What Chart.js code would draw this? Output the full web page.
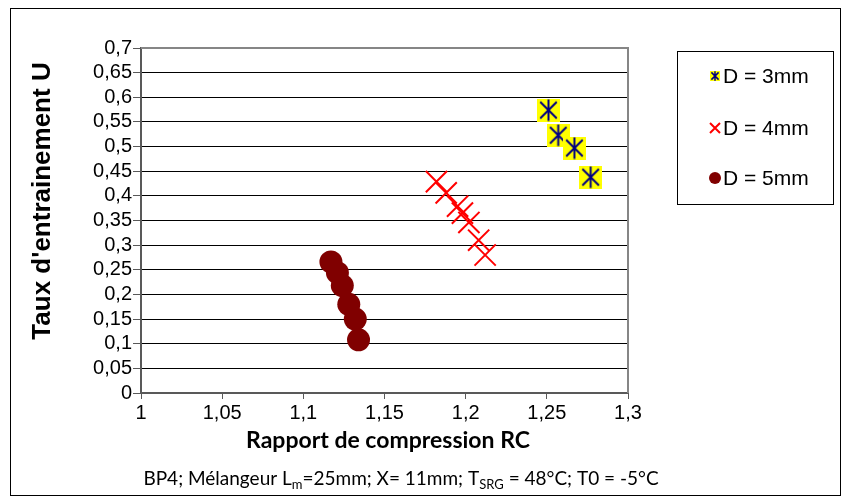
<!DOCTYPE html>
<html>
<head>
<meta charset="utf-8">
<script src="https://cdn.jsdelivr.net/npm/chart.js@4/dist/chart.umd.min.js"></script>
<style>
  html, body { margin: 0; padding: 0; background: #fff; }
  canvas { display: block; }
</style>
</head>
<body>
<canvas id="c" width="846" height="501"></canvas>
<script>
// ---- data ----
const seriesLabels = ['D = 3mm', 'D = 4mm', 'D = 5mm'];
const x3 = [1.251, 1.257, 1.267, 1.277];
const y3 = [0.574, 0.523, 0.497, 0.438];
const x4 = [1.182, 1.188, 1.195, 1.198, 1.202, 1.208, 1.212];
const y4 = [0.429, 0.406, 0.379, 0.365, 0.346, 0.310, 0.280];
const x5 = [1.117, 1.121, 1.124, 1.128, 1.132, 1.134];
const y5 = [0.266, 0.244, 0.218, 0.180, 0.150, 0.108];
const xTickValues = [1, 1.05, 1.1, 1.15, 1.2, 1.25, 1.3];
const xTickLabels = ['1', '1,05', '1,1', '1,15', '1,2', '1,25', '1,3'];
const yTickValues = [0, 0.05, 0.1, 0.15, 0.2, 0.25, 0.3, 0.35, 0.4, 0.45, 0.5, 0.55, 0.6, 0.65, 0.7];
const yTickLabels = ['0', '0,05', '0,1', '0,15', '0,2', '0,25', '0,3', '0,35', '0,4', '0,45', '0,5', '0,55', '0,6', '0,65', '0,7'];
const yTitle = "Taux d'entrainement U";
const xTitle = 'Rapport de compression RC';
const captionParts = [['BP4; Mélangeur L', false], ['m', true], ['=25mm; X= 11mm; T', false], ['SRG', true], [' = 48°C; T0 = -5°C', false]];

const pts = (xs, ys) => xs.map((x, i) => ({ x: x, y: ys[i] }));

// star-in-yellow-square marker
function makeStarSquare(size, lw) {
  const cv = document.createElement('canvas');
  cv.width = size; cv.height = size;
  const g = cv.getContext('2d');
  g.fillStyle = '#FFFF00';
  g.fillRect(0, 0, size, size);
  g.strokeStyle = '#000080';
  g.lineWidth = lw;
  const c = size / 2, h = size * 0.36, v = size * 0.47;
  g.beginPath();
  g.moveTo(c - h, c - h); g.lineTo(c + h, c + h);
  g.moveTo(c + h, c - h); g.lineTo(c - h, c + h);
  g.moveTo(c, c - v); g.lineTo(c, c + v);
  g.stroke();
  return cv;
}
const starBig = makeStarSquare(23, 2);
const starSmall = makeStarSquare(10, 1.5);

const FONT = '"Liberation Sans", Arial, sans-serif';
const CAL = 'Lato, "Open Sans", sans-serif';

const decor = {
  id: 'decor',
  beforeDraw(chart) {
    const ctx = chart.ctx;
    ctx.save();
    ctx.fillStyle = '#fff';
    ctx.fillRect(0, 0, chart.width, chart.height);
    ctx.restore();
  },
  afterDraw(chart) {
    const ctx = chart.ctx;
    const a = chart.chartArea;
    ctx.save();
    // plot area frame top/right
    ctx.strokeStyle = '#868686';
    ctx.lineWidth = 2;
    ctx.beginPath();
    ctx.moveTo(a.left, a.top); ctx.lineTo(a.right, a.top); ctx.lineTo(a.right, a.bottom);
    ctx.stroke();
    // outer frame
    ctx.strokeStyle = '#000';
    ctx.lineWidth = 1;
    ctx.strokeRect(10.5, 8.5, 830, 487);
    // legend box
    ctx.strokeRect(677.5, 51.5, 156, 153);
    // legend items
    const ly = [76, 128, 178];
    ctx.font = '21px ' + FONT;
    ctx.fillStyle = '#000';
    ctx.textAlign = 'left';
    ctx.textBaseline = 'middle';
    ctx.drawImage(starSmall, 715 - 5, ly[0] - 5);
    ctx.strokeStyle = '#FF0000';
    ctx.lineWidth = 2;
    ctx.beginPath();
    ctx.moveTo(710, ly[1] - 5); ctx.lineTo(720, ly[1] + 5);
    ctx.moveTo(720, ly[1] - 5); ctx.lineTo(710, ly[1] + 5);
    ctx.stroke();
    ctx.fillStyle = '#800000';
    ctx.beginPath();
    ctx.arc(715, ly[2], 6, 0, Math.PI * 2);
    ctx.fill();
    ctx.fillStyle = '#000';
    seriesLabels.forEach((t, i) => ctx.fillText(t, 723, ly[i] + 1));
    // y title
    ctx.save();
    ctx.translate(43, 201);
    ctx.rotate(-Math.PI / 2);
    ctx.font = 'bold 26px ' + FONT;
    ctx.textAlign = 'center';
    ctx.textBaseline = 'middle';
    ctx.fillText(yTitle, 0, 0);
    ctx.restore();
    // x title
    ctx.font = 'bold 23px ' + CAL;
    ctx.textAlign = 'center';
    ctx.textBaseline = 'middle';
    ctx.fillText(xTitle, 388, 441);
    // caption
    const nf = '19px ' + CAL;
    const sf = '13px ' + CAL;
    let total = 0;
    captionParts.forEach(p => { ctx.font = p[1] ? sf : nf; total += ctx.measureText(p[0]).width; });
    let cx = 401 - total / 2;
    ctx.textAlign = 'left';
    ctx.textBaseline = 'alphabetic';
    captionParts.forEach(p => {
      ctx.font = p[1] ? sf : nf;
      ctx.fillText(p[0], cx, p[1] ? 489 : 485);
      cx += ctx.measureText(p[0]).width;
    });
    ctx.restore();
  }
};

new Chart(document.getElementById('c'), {
  type: 'scatter',
  data: {
    datasets: [
      { label: seriesLabels[0], data: pts(x3, y3), pointStyle: starBig, pointRadius: 11, borderWidth: 0 },
      { label: seriesLabels[1], data: pts(x4, y4), pointStyle: 'crossRot', pointRadius: 15, borderColor: '#FF0000', backgroundColor: '#FF0000', pointBorderWidth: 2 },
      { label: seriesLabels[2], data: pts(x5, y5), pointStyle: 'circle', pointRadius: 11.5, borderColor: '#800000', backgroundColor: '#800000', pointBorderWidth: 0 }
    ]
  },
  options: {
    responsive: false,
    animation: false,
    devicePixelRatio: 1,
    events: [],
    layout: { padding: { left: 0, right: 218, top: 48, bottom: 0 } },
    plugins: { legend: { display: false }, tooltip: { enabled: false }, title: { display: false } },
    scales: {
      x: {
        type: 'linear', min: 1, max: 1.3,
        afterBuildTicks: s => { s.ticks = xTickValues.map(v => ({ value: v })); },
        afterFit: s => { s.height = 108; },
        ticks: { callback: (v, i) => xTickLabels[i], font: { family: FONT, size: 20 }, color: '#000', padding: 2, maxRotation: 0, autoSkip: false },
        grid: { drawOnChartArea: false, drawTicks: true, tickLength: 6, tickColor: '#595959', tickWidth: 1 },
        border: { color: '#595959', width: 2 }
      },
      y: {
        type: 'linear', min: 0, max: 0.7,
        afterBuildTicks: s => { s.ticks = yTickValues.map(v => ({ value: v })); },
        afterFit: s => { s.width = 141; },
        ticks: { callback: (v, i) => yTickLabels[i], font: { family: FONT, size: 20 }, color: '#000', padding: 1, autoSkip: false },
        grid: { color: '#000', lineWidth: 1, drawTicks: true, tickLength: 8, tickColor: '#595959' },
        border: { color: '#595959', width: 2 }
      }
    }
  },
  plugins: [decor]
});
</script>
</body>
</html>
